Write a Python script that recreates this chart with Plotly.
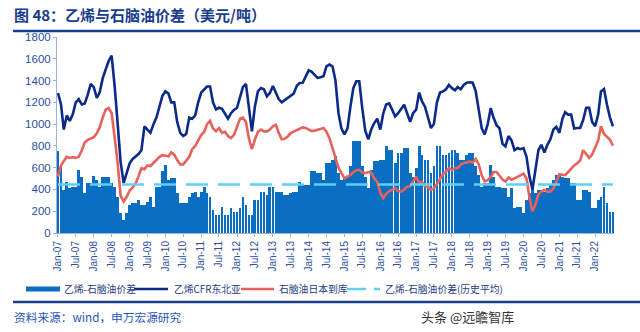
import pandas as pd
import plotly.graph_objects as go

# Monthly values, Jan-2007 .. Jul-2022
ethylene = [1286,1180,950,1080,1030,1090,1200,1230,1180,1190,1270,1370,
            1340,1240,1290,1420,1500,1580,1630,1350,1000,650,460,550,
            640,680,700,725,760,980,950,920,1000,1060,1160,1260,
            1300,1280,1200,1200,1020,920,890,910,1060,1050,1080,1200,
            1290,1320,1345,1345,1200,1135,1150,1140,1100,1050,1100,1130,
            1150,1250,1340,1370,1150,933,1160,1300,1332,1320,1255,1286,
            1350,1280,1230,1200,1220,1240,1255,1280,1350,1378,1380,1430,
            1494,1480,1450,1424,1430,1440,1531,1547,1531,1400,1100,960,
            905,960,1150,1330,1393,1393,1150,940,860,950,1010,1050,
            950,1100,1180,1190,1133,1070,1100,1140,1178,1100,1020,1100,
            1133,1290,1210,1160,1050,964,1000,1200,1290,1300,1320,1360,
            1330,1310,1340,1320,1360,1380,1384,1380,1300,1120,960,905,
            1000,1148,1060,990,960,820,795,890,850,760,780,770,
            780,700,520,400,560,760,810,740,810,860,950,975,
            920,1050,1110,1087,1087,960,964,964,1040,1150,1150,1020,
            980,1090,1300,1322,1180,1060,979]

naphtha = [518,620,660,700,690,695,690,700,760,830,856,865,
           880,915,970,1060,1133,1148,1100,880,640,340,290,330,
           390,420,450,520,595,585,620,615,640,670,700,715,
           710,705,740,720,670,630,630,670,700,770,800,850,
           900,930,1000,1030,960,935,964,920,930,890,872,900,
           970,1050,1060,1020,870,770,856,930,950,933,933,950,
           980,994,920,860,865,885,917,930,940,950,970,965,
           948,935,940,948,955,964,930,870,780,700,600,549,
           503,518,531,560,575,580,555,549,560,555,500,470,
           370,320,360,385,396,411,385,380,400,426,430,480,
           518,460,470,430,426,396,410,450,500,540,562,595,
           580,595,595,630,641,650,657,645,680,630,530,475,
           485,515,560,560,520,490,472,510,490,500,515,530,
           545,500,330,200,260,355,380,396,380,380,410,470,
           540,535,531,560,595,620,641,665,760,720,690,720,
           790,850,980,910,885,856,801]

spread = [749,611,396,472,411,426,426,580,518,365,457,457,
          525,488,426,518,518,518,457,426,334,181,120,181,
          258,273,273,304,258,258,288,334,242,426,426,565,
          626,488,503,503,365,273,273,273,334,365,380,334,
          380,426,365,334,212,166,166,242,166,166,227,196,
          196,227,334,258,166,166,304,304,380,380,350,426,
          426,380,380,380,350,350,365,380,380,472,442,442,
          442,565,565,549,549,488,641,641,672,703,549,488,
          518,518,611,841,841,841,611,518,411,580,657,657,
          672,672,795,764,764,641,733,733,783,783,549,518,
          595,795,718,672,672,549,611,801,801,718,718,733,
          764,764,733,672,672,718,733,733,611,531,426,457,
          457,626,518,426,426,411,411,334,411,227,242,242,
          181,304,365,426,365,396,396,380,411,442,488,531,
          531,518,503,503,457,457,304,304,396,396,380,227,
          227,304,334,426,273,196,196]

avg_spread = 445

dates = pd.date_range("2007-01-01", periods=len(ethylene), freq="MS")
tick_dates = pd.date_range("2007-01-01", "2022-01-01", freq="6MS")

names = ["乙烯-石脑油价差", "乙烯CFR东北亚", "石脑油日本到库", "乙烯-石脑油价差(历史平均)"]

FONT = "Liberation Sans, Arial, Noto Sans CJK SC, sans-serif"
CJK = "Noto Sans CJK SC, sans-serif"
BLUE_TXT = "#2c4fa3"
C_BAR, C_ETH, C_NAP, C_AVG = "#0a6fc2", "#0b2a8a", "#e8615a", "#62d0f6"

fig = go.Figure()
fig.add_trace(go.Bar(x=dates, y=spread, name=names[0], marker_color=C_BAR,
                     marker_line_width=0))
fig.add_trace(go.Scatter(x=dates, y=ethylene, name=names[1], mode="lines",
                         line=dict(color=C_ETH, width=2.6)))
fig.add_trace(go.Scatter(x=dates, y=naphtha, name=names[2], mode="lines",
                         line=dict(color=C_NAP, width=2.6)))
fig.add_trace(go.Scatter(x=dates, y=[avg_spread] * len(dates), name=names[3], mode="lines",
                         line=dict(color=C_AVG, width=2.6, dash="22px,10px")))

L, R, T, B = 57, 26, 37, 99
H = 332 - T - B
W = 640 - L - R

def py(ypx):
    return (332 - B - ypx) / H

def px(xpx):
    return (xpx - L) / W

shapes = [
    dict(type="line", xref="paper", yref="paper", x0=px(13), x1=px(640),
         y0=py(31), y1=py(31), line=dict(color="#1a3c8c", width=2.5)),
    dict(type="line", xref="paper", yref="paper", x0=px(13), x1=px(640),
         y0=py(302), y1=py(302), line=dict(color="#1a3c8c", width=2.5)),
    # legend swatches
    dict(type="rect", xref="paper", yref="paper", x0=px(26), x1=px(60),
         y0=py(291.5), y1=py(286.5), fillcolor=C_BAR, line=dict(width=0)),
    dict(type="line", xref="paper", yref="paper", x0=px(134), x1=px(168),
         y0=py(289), y1=py(289), line=dict(color=C_ETH, width=2.6)),
    dict(type="line", xref="paper", yref="paper", x0=px(241), x1=px(274),
         y0=py(289), y1=py(289), line=dict(color=C_NAP, width=2.6)),
    dict(type="line", xref="paper", yref="paper", x0=px(347), x1=px(380),
         y0=py(289), y1=py(289), line=dict(color=C_AVG, width=2.6, dash="19px,8px")),
]

legend_x = [62, 172, 277, 383]
annotations = [
    dict(text="<b>图 48：乙烯与石脑油价差（美元/吨）</b>", xref="paper", yref="paper",
         x=px(12), y=py(15), xanchor="left", yanchor="middle", showarrow=False,
         font=dict(family=CJK, size=15, color="#1a3c8c")),
    dict(text="资料来源：wind，申万宏源研究", xref="paper", yref="paper",
         x=px(12), y=py(316), xanchor="left", yanchor="middle", showarrow=False,
         font=dict(family=CJK, size=11.7, color="#1f55b8")),
    dict(text="头条 @远瞻智库", xref="paper", yref="paper",
         x=px(516), y=py(316), xanchor="right", yanchor="middle", showarrow=False,
         font=dict(family=CJK, size=13, color="#333333")),
]
for nm, lx in zip(names, legend_x):
    annotations.append(dict(text=nm, xref="paper", yref="paper", x=px(lx), y=py(288.5),
                            xanchor="left", yanchor="middle", showarrow=False,
                            font=dict(family=CJK, size=9.8, color="#1f3c88")))

fig.update_layout(
    width=640, height=332,
    margin=dict(l=L, r=R, t=T, b=B),
    paper_bgcolor="white", plot_bgcolor="white",
    bargap=0,
    showlegend=False,
    xaxis=dict(type="date", range=["2006-12-22", "2022-07-12"],
               tickvals=list(tick_dates), tickformat="%b-%y", tickangle=-90,
               showgrid=False, showline=True, linecolor="#9db3dc", linewidth=1,
               ticks="outside", ticklen=3, tickcolor="#9db3dc",
               tickfont=dict(family=FONT, size=10, color=BLUE_TXT)),
    yaxis=dict(range=[0, 1800], dtick=200, showgrid=False, showline=True,
               linecolor="#9db3dc", linewidth=1, ticks="outside", ticklen=3,
               tickcolor="#9db3dc", zeroline=False,
               tickfont=dict(family=FONT, size=11.5, color=BLUE_TXT)),
    shapes=shapes,
    annotations=annotations,
)

fig.write_html("out.html")
